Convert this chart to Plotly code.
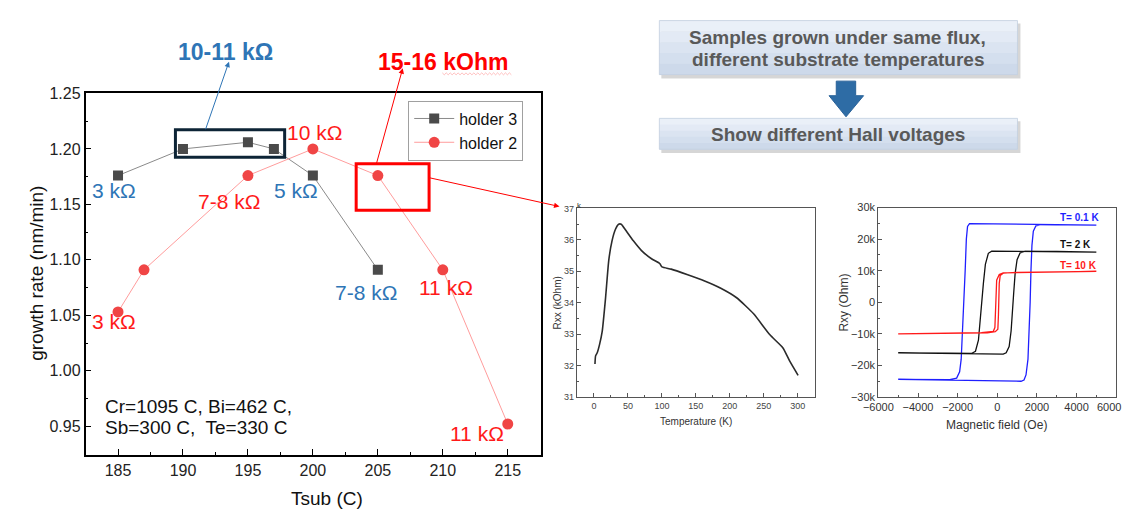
import plotly.graph_objects as go

# The page keeps its default 8px body margin, so the figure is drawn 16px
# smaller and all reference pixel positions are shifted by that margin.
PAGE_W, PAGE_H = 1135, 518
OFF = 8
W, H = PAGE_W - 2 * OFF, PAGE_H - 2 * OFF


def X(p):
    return (p - OFF) / W


def Y(p):
    return 1 - (p - OFF) / H


# ---------------- data ----------------
tsub_holder3 = [185, 190, 195, 197, 200, 205]
rate_holder3 = [1.176, 1.200, 1.206, 1.200, 1.176, 1.091]
tsub_holder2 = [185, 187, 195, 200, 205, 210, 215]
rate_holder2 = [1.053, 1.091, 1.176, 1.200, 1.176, 1.091, 0.952]

temp_K = [1.5, 2.4, 4.8, 8.2, 12.1, 16.9, 21.8, 26.6, 31.5, 36.3, 40.2, 46, 58, 70,
          84.7, 96.8, 100.2, 113.7, 138, 162, 186, 210, 235, 259, 278, 288, 300.5]
rxx_kohm = [32.05, 32.31, 32.41, 32.67, 33.08, 34.11, 35.35, 35.97, 36.33, 36.5, 36.5,
            36.33, 35.97, 35.66, 35.4, 35.25, 35.14, 35.07, 34.89, 34.70, 34.47, 34.16,
            33.65, 32.98, 32.57, 32.15, 31.69]

field_01K = [-5000, -2500, -1000, 500, 1200, 1350, 1450, 1550, 1620, 1660, 1700, 1750, 1820,
             1950, 2200, 3500, 5000,
             3000, 1000, -1000, -1400, -1500, -1560, -1620, -1680, -1750, -1820, -1900,
             -2050, -2400, -5000]
rxy_01K = [-24.4, -24.6, -24.8, -24.9, -25.0, -24.6, -23.0, -18, -8, 0, 10, 18, 22.5,
           24.2, 24.6, 24.5, 24.4,
           24.6, 24.8, 25.0, 24.9, 24.0, 20, 10, 0, -10, -18, -22,
           -24.0, -24.5, -24.4]

field_2K = [-5000, -2000, 0, 300, 450, 600, 700, 780, 830, 900, 1000, 1150, 1400, 3000, 5000,
            2000, 0, -280, -450, -600, -700, -780, -850, -950, -1100, -1300, -2500, -5000]
rxy_2K = [-16.0, -16.2, -16.4, -16.4, -16.0, -14, -9, -3, 3, 9, 13.5, 15.6, 16.1, 16.1, 15.9,
          16.2, 16.3, 16.2, 15.5, 12, 6, 0, -6, -12, -15.5, -16.2, -16.1, -16.0]

field_10K = [-5000, -2000, -500, -100, 30, 60, 80, 100, 150, 300, 1000, 3000, 5000,
             1000, 300, 100, -30, -60, -80, -120, -200, -800, -5000]
rxy_10K = [-10.0, -9.9, -9.7, -9.3, -8.5, -4, 2, 6, 8.5, 9.2, 9.5, 9.7, 9.8,
           9.6, 9.3, 8.8, 7, 2, -4, -8, -9.2, -9.6, -10.0]

field_ticks = [-6000, -4000, -2000, 0, 2000, 4000]

FONT = "Liberation Sans, Arial, sans-serif"
BLUE_T = "#2e75b6"
RED_T = "#ff1a1a"

fig = go.Figure()

# main chart
fig.add_trace(go.Scatter(
    x=tsub_holder3, y=rate_holder3, mode="lines+markers", name="holder 3",
    line=dict(color="#8a8a8a", width=1),
    marker=dict(symbol="square", size=10, color="#4a4a4a"),
    xaxis="x", yaxis="y"))
fig.add_trace(go.Scatter(
    x=tsub_holder2, y=rate_holder2, mode="lines+markers", name="holder 2",
    line=dict(color="#ff9c9c", width=1),
    marker=dict(symbol="circle", size=11, color="#f04545"),
    xaxis="x", yaxis="y"))

# Rxx vs T
fig.add_trace(go.Scatter(
    x=temp_K, y=rxx_kohm, mode="lines", showlegend=False,
    line=dict(color="#2b2b2b", width=1.6, shape="spline", smoothing=0.5),
    xaxis="x2", yaxis="y2"))

# Rxy loops
for fx, ry, col in [(field_01K, rxy_01K, "#1f1fff"), (field_2K, rxy_2K, "#111111"),
                    (field_10K, rxy_10K, "#ff1a1a")]:
    fig.add_trace(go.Scatter(
        x=fx, y=[v * 1000 for v in ry], mode="lines", showlegend=False,
        line=dict(color=col, width=1.3),
        xaxis="x3", yaxis="y3"))

main_ax = dict(showline=True, linecolor="black", linewidth=1.5, mirror=True,
               ticks="inside", ticklen=6, tickcolor="black", showgrid=False, zeroline=False,
               tickfont=dict(family=FONT, size=16, color="#222"),
               minor=dict(ticks="inside", ticklen=3, tickcolor="black"))
small_ax = dict(showline=True, linecolor="#555", linewidth=1.2, mirror=True,
                ticks="inside", ticklen=4, tickcolor="#555", showgrid=False, zeroline=False,
                minor=dict(ticks="inside", ticklen=2, tickcolor="#555"))

fig.update_layout(
    width=W, height=H, margin=dict(l=0, r=0, t=0, b=0),
    paper_bgcolor="white", plot_bgcolor="white",
    font=dict(family=FONT),
    xaxis=dict(main_ax, domain=[X(71.4), X(532.9)], range=[182.5, 217.55], dtick=5,
               anchor="y", minor=dict(main_ax["minor"], dtick=2.5)),
    yaxis=dict(main_ax, domain=[Y(459.3), Y(87.7)], range=[0.9243, 1.25], dtick=0.05,
               tickformat=".2f", anchor="x", minor=dict(main_ax["minor"], dtick=0.025)),
    xaxis2=dict(small_ax, domain=[X(569.5), X(810.5)], range=[-25, 325], dtick=50,
                anchor="y2", tickfont=dict(family=FONT, size=9, color="#444"),
                minor=dict(small_ax["minor"], dtick=25)),
    yaxis2=dict(small_ax, domain=[Y(400), Y(206)], range=[31, 37], dtick=1,
                anchor="x2", tickfont=dict(family=FONT, size=9, color="#444"),
                minor=dict(small_ax["minor"], dtick=0.5)),
    xaxis3=dict(small_ax, domain=[X(875), X(1116)], range=[-6000, 6000],
                tickmode="array", tickvals=field_ticks,
                anchor="y3", tickfont=dict(family=FONT, size=11, color="#333"),
                minor=dict(small_ax["minor"], dtick=1000)),
    yaxis3=dict(small_ax, domain=[Y(400), Y(205)], range=[-30000, 30000], dtick=10000,
                tickformat="~s", anchor="x3", tickfont=dict(family=FONT, size=11, color="#333"),
                minor=dict(small_ax["minor"], dtick=5000)),
    legend=dict(x=X(515), xanchor="right", y=Y(95), yanchor="top",
                bgcolor="white", bordercolor="#a0a0a0", borderwidth=1,
                font=dict(family=FONT, size=16, color="#111"),
                tracegroupgap=0, itemwidth=40),
)

ann = []


def txt(t, x, y, size, color, bold=False, angle=0, xanchor="center"):
    ann.append(dict(text=("<b>%s</b>" % t) if bold else t, x=X(x), y=Y(y), xref="paper",
                    yref="paper", showarrow=False, xanchor=xanchor, yanchor="middle",
                    textangle=angle, font=dict(family=FONT, size=size, color=color)))


# axis titles
txt("Tsub (C)", 316, 504, 19, "#111")
txt("growth rate (nm/min)", 21.4, 273, 19, "#111", angle=-90)
txt("Rxx (kOhm)", 550, 303, 10, "#333", angle=-90)
txt("Temperature (K)", 690, 425, 10, "#333")
txt("k", 572, 203, 8, "#333")
txt("Rxy (Ohm)", 840, 303, 12, "#333", angle=-90)
txt("Magnetic field (Oe)", 995, 429, 12, "#333")
txt("6000", 1109, 410, 11, "#333")

# resistance labels on main chart
for t, x, y in [("3 kΩ", 100, 188), ("5 kΩ", 284.6, 188), ("7-8 kΩ", 355.4, 292.7)]:
    txt(t, x, y, 21, BLUE_T)
for t, x, y in [("10 kΩ", 303.6, 127.7), ("7-8 kΩ", 217.3, 199.3), ("3 kΩ", 100, 322.7),
                ("11 kΩ", 437, 287.3), ("11 kΩ", 468, 437.3)]:
    txt(t, x, y, 21, RED_T)

txt("Cr=1095 C, Bi=462 C,", 88.6, 409.3, 19, "#111", xanchor="left")
txt("Sb=300 C,  Te=330 C", 88.6, 431.7, 19, "#111", xanchor="left")

txt("10-11 kΩ", 213, 45, 23, BLUE_T, bold=True)
txt("15-16 kOhm", 434, 55, 23, "#ff0000", bold=True)

# Rxy labels
txt("T= 0.1 K", 1057, 215.7, 10, "#1f1fff", bold=True, xanchor="left")
txt("T= 2 K", 1057, 243.3, 10, "#111111", bold=True, xanchor="left")
txt("T= 10 K", 1057, 265, 10, "#ff1a1a", bold=True, xanchor="left")

# top-right flow boxes
txt("Samples grown under same flux,", 834, 30, 19, "#595959", bold=True)
txt("different substrate temperatures", 834, 53, 19, "#595959", bold=True)
txt("Show different Hall voltages", 834, 129.5, 19, "#595959", bold=True)


def arrow(x0, y0, x1, y1, color):
    ann.append(dict(x=X(x1), y=Y(y1), xref="paper", yref="paper", text="",
                    showarrow=True, ax=x0 - x1, ay=y0 - y1, axref="pixel", ayref="pixel",
                    arrowhead=2, arrowsize=1.1, arrowwidth=1, arrowcolor=color))


arrow(192.9, 124, 216.8, 55, BLUE_T)
arrow(366, 159.3, 392.9, 61.7, "#ff0000")
arrow(420.7, 175, 551.8, 204, "#ff0000")

fig.update_layout(annotations=ann)

shapes = []


def rect(x0, y0, x1, y1, line_color, width):
    shapes.append(dict(type="rect", xref="paper", yref="paper", x0=X(x0), x1=X(x1),
                       y0=Y(y1), y1=Y(y0), line=dict(color=line_color, width=width),
                       fillcolor="rgba(0,0,0,0)", layer="above"))


rect(162.5, 125, 273.2, 153.3, "#0d2436", 3)
rect(345.7, 160, 419.6, 207.7, "#ff0000", 3)

# flow boxes with shadow and graded fill
grad = ["#eaf0f8", "#e3eaf5", "#dbe4f1", "#d4dfee", "#cdd9ea"]
for (bx0, by0, bx1, by1) in [(653, 12.7, 1016, 68.3), (653, 113.3, 1016, 145)]:
    shapes.append(dict(type="rect", xref="paper", yref="paper", x0=X(bx0 + 2), x1=X(bx1 + 3),
                       y0=Y(by1 + 4), y1=Y(by0 + 3), line=dict(width=0),
                       fillcolor="rgba(0,0,0,0.16)", layer="below"))
    n = len(grad)
    for i, c in enumerate(grad):
        ya = by0 + (by1 - by0) * i / n
        yb = by0 + (by1 - by0) * (i + 1) / n
        shapes.append(dict(type="rect", xref="paper", yref="paper", x0=X(bx0), x1=X(bx1),
                           y0=Y(yb + 0.5), y1=Y(ya), line=dict(width=0), fillcolor=c,
                           layer="below"))
    shapes.append(dict(type="rect", xref="paper", yref="paper", x0=X(bx0), x1=X(bx1),
                       y0=Y(by1), y1=Y(by0), line=dict(color="#c3cfdf", width=0.8),
                       fillcolor="rgba(0,0,0,0)", layer="below"))

# down block arrow
pts = [(832.3, 75), (852, 75), (852, 90), (860, 90), (842.2, 111.7), (825, 90), (832.3, 90)]
path = "M " + " L ".join("%f,%f" % (X(a), Y(b)) for a, b in pts) + " Z"
shapes.append(dict(type="path", xref="paper", yref="paper", path=path,
                   fillcolor="#2e6ca5", line=dict(color="#2a6299", width=1)))

# spell-check squiggle under kOhm
sq = []
xs = 433.0
i = 0
while xs <= 503:
    sq.append((xs, 67.5 + (1.0 if i % 2 else -1.0)))
    xs += 2.0
    i += 1
spath = "M " + " L ".join("%f,%f" % (X(a), Y(b)) for a, b in sq)
shapes.append(dict(type="path", xref="paper", yref="paper", path=spath,
                   line=dict(color="rgba(255,60,60,0.55)", width=0.6)))

fig.update_layout(shapes=shapes)

fig.write_html("out.html", config={"displayModeBar": False})
